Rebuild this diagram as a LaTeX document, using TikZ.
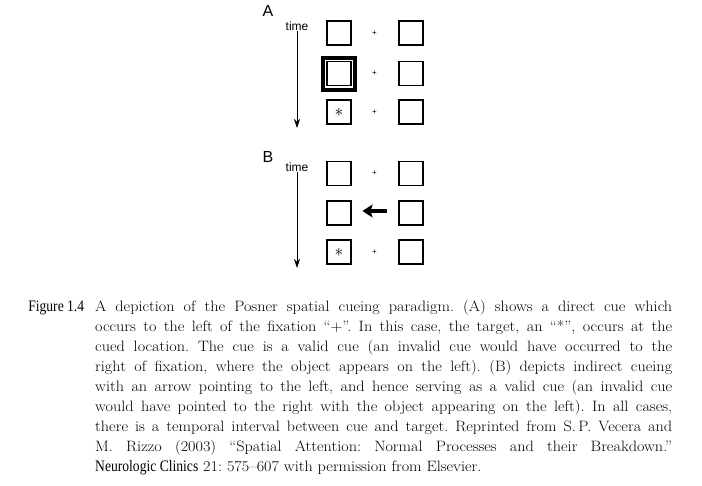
\documentclass[tikz,border=0pt]{standalone}
\usepackage{fontspec}
\usetikzlibrary{arrows.meta,positioning}
\setmainfont{Latin Modern Roman}[FakeStretch=1.08]
\newfontfamily\sansfont{Liberation Sans}
\newfontfamily\narrowfont[FakeStretch=0.85]{Liberation Serif}

\begin{document}
\begin{tikzpicture}[x=1pt,y=-1pt, every node/.style={inner sep=0pt},
 stim/.style={draw,line width=1.1pt,minimum size=24pt},
 fix/.style={font=\sansfont\fontsize{8}{8}\selectfont},
 lbl/.style={font=\sansfont\fontsize{16}{16}\selectfont},
 tlbl/.style={font=\sansfont\fontsize{12}{12}\selectfont},
 tarrow/.style={line width=0.7pt,-{Stealth[length=9pt,width=6pt]}},
 cuearrow/.style={line width=3.2pt,-{Stealth[length=10pt,width=13pt,inset=2pt]}},
 tgt/.style={font=\fontsize{18}{18}\selectfont}]
\useasboundingbox (0,0) rectangle (702,485);
% panel A: direct cue
\node[lbl] (labA) at (268,11) {A};
\node[tlbl] (timeA) at (297,26) {time};
\coordinate (endA) at (297,128);
\draw[tarrow] (timeA.south) -- (endA);
\foreach \r/\y in {1/33,2/73.5,3/112}{
 \node[stim] (AL\r) at (339,\y) {};
 \node[fix] (AF\r) at (374.5,\y) {+};
 \node[stim] (AR\r) at (411,\y) {};
}
\node[draw,line width=4pt,minimum size=32pt] (cueA) at (AL2) {};
\node[tgt] (tgtA) at (AL3) {$\ast$};
% panel B: arrow cue
\node[lbl] (labB) at (268,157) {B};
\node[tlbl] (timeB) at (297,167) {time};
\coordinate (endB) at (297,268);
\draw[tarrow] (timeB.south) -- (endB);
\foreach \r/\y in {1/173.5,2/213,3/252}{
 \node[stim] (BL\r) at (339,\y) {};
 \node[stim] (BR\r) at (411,\y) {};
}
\node[fix] (BF1) at (374.5,173.5) {+};
\node[fix] (BF3) at (374.5,252) {+};
\draw[cuearrow,shorten >=11pt,shorten <=11pt] ([yshift=2pt]BR2.west) -- ([yshift=2pt]BL2.east);
\node[tgt] (tgtB) at (BL3) {$\ast$};
% caption
\node[anchor=north west,text width=577pt,align=justify,
 font=\fontsize{15}{20}\selectfont\frenchspacing] (cap) at (95,300)
 {\llap{\fontsize{16}{20}\narrowfont Figure 1.4\hspace{11pt}}A depiction of the Posner spatial cueing paradigm. (A) shows a direct cue which\linebreak
 occurs to the left of the fixation “+”. In this case, the target, an “*”, occurs at the\linebreak
 cued location. The cue is a valid cue (an invalid cue would have occurred to the\linebreak
 right of fixation, where the object appears on the left). (B) depicts indirect cueing\linebreak
 with an arrow pointing to the left, and hence serving as a valid cue (an invalid cue\linebreak
 would have pointed to the right with the object appearing on the left). In all cases,\linebreak
 there is a temporal interval between cue and target. Reprinted from S.\,P. Vecera and\linebreak
 M. Rizzo (2003) “Spatial Attention: Normal Processes and their Breakdown.”\linebreak
 {\fontsize{16}{20}\narrowfont Neurologic Clinics} 21: 575–607 with permission from Elsevier.};
\end{tikzpicture}
\end{document}
